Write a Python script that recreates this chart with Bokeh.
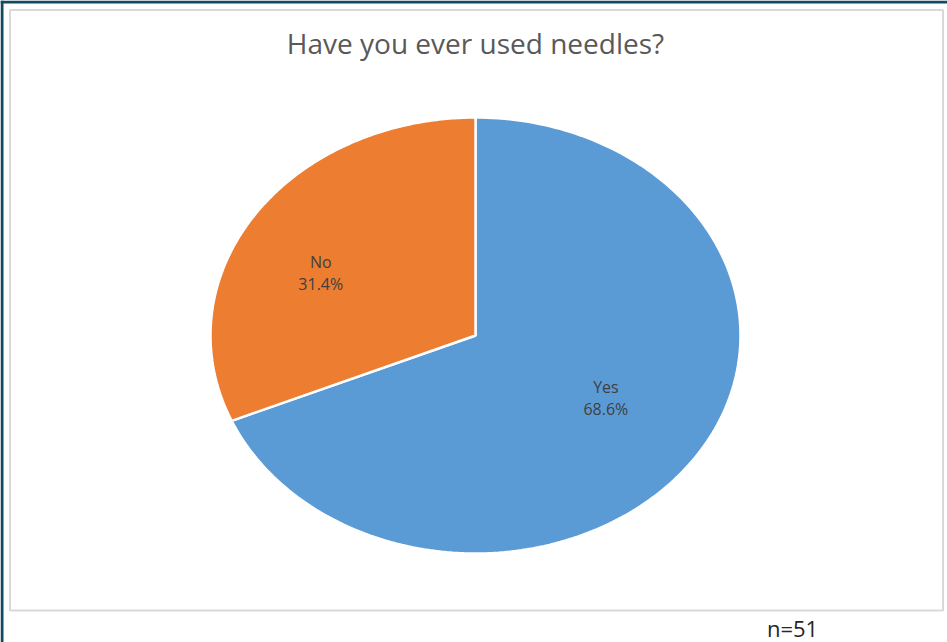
import numpy as np
from bokeh.plotting import figure
from bokeh.models import Range1d, ColumnDataSource
from bokeh.core.properties import value
from bokeh.embed import file_html
from bokeh.resources import INLINE

# ---- data ----
categories = ["Yes", "No"]
percents = [68.6, 31.4]
colors = ["#5B9BD5", "#ED7D31"]
title_text = "Have you ever used needles?"
note_text = "n=51"

W, H = 947, 642
p = figure(width=W, height=H, output_backend="svg", toolbar_location=None,
           x_range=Range1d(0, W), y_range=Range1d(0, H), min_border=0,
           outline_line_color=None, background_fill_color="white",
           border_fill_color="white")
p.axis.visible = False
p.grid.visible = False

def sx(x):  # screen x -> data x
    return x
def sy(y):  # screen y -> data y
    return H - y

# dark frame lines (top and left)
p.quad(left=0, right=W, bottom=sy(3), top=sy(0), fill_color="#124B5F", line_color=None)
p.quad(left=0, right=3, bottom=0, top=H, fill_color="#124B5F", line_color=None)

# chart area border
p.quad(left=sx(9.5), right=sx(942.5), bottom=sy(610), top=sy(9.5),
       fill_color=None, line_color="#D9D9D9", line_width=2)

# pie (elliptical, starting at 12 o'clock, clockwise)
cx, cy = sx(475), sy(335)
rx, ry = 265, 218
total = sum(percents)
start = 0.0
xs, ys, lx, ly = [], [], [], []
label_frac = [0.59, 0.70]
for i, v in enumerate(percents):
    a0 = start / total * 2 * np.pi
    a1 = (start + v) / total * 2 * np.pi
    t = np.linspace(a0, a1, 200)
    px = [cx] + list(cx + rx * np.sin(t)) + [cx]
    py = [cy] + list(cy + ry * np.cos(t)) + [cy]
    xs.append(px)
    ys.append(py)
    am = (a0 + a1) / 2
    lx.append(cx + label_frac[i] * rx * np.sin(am))
    ly.append(cy + 0.52 * ry * np.cos(am))
    start += v

p.patches(xs, ys, fill_color=colors, line_color="white", line_width=2.5)

labels_top = categories
labels_bot = [f"{v:.1f}%" for v in percents]
src = ColumnDataSource(dict(x=lx, y=ly, t1=labels_top, t2=labels_bot))
p.text(x="x", y="y", text="t1", source=src, text_align="center",
       text_baseline="bottom", text_font=value("Open Sans"),
       text_font_size="16px", text_color="#404040", y_offset=0)
p.text(x="x", y="y", text="t2", source=src, text_align="center",
       text_baseline="top", text_font=value("Open Sans"),
       text_font_size="16px", text_color="#404040", y_offset=0)

# title
p.text(x=[sx(475)], y=[sy(42)], text=[title_text], text_align="center",
       text_baseline="middle", text_font=value("Open Sans"),
       text_font_size="28px", text_color="#595959")

# note
p.text(x=[sx(792)], y=[sy(627)], text=[note_text], text_align="center",
       text_baseline="middle", text_font=value("Open Sans"),
       text_font_size="22px", text_color="#262626")

open("out.html", "w").write(file_html(p, INLINE))
